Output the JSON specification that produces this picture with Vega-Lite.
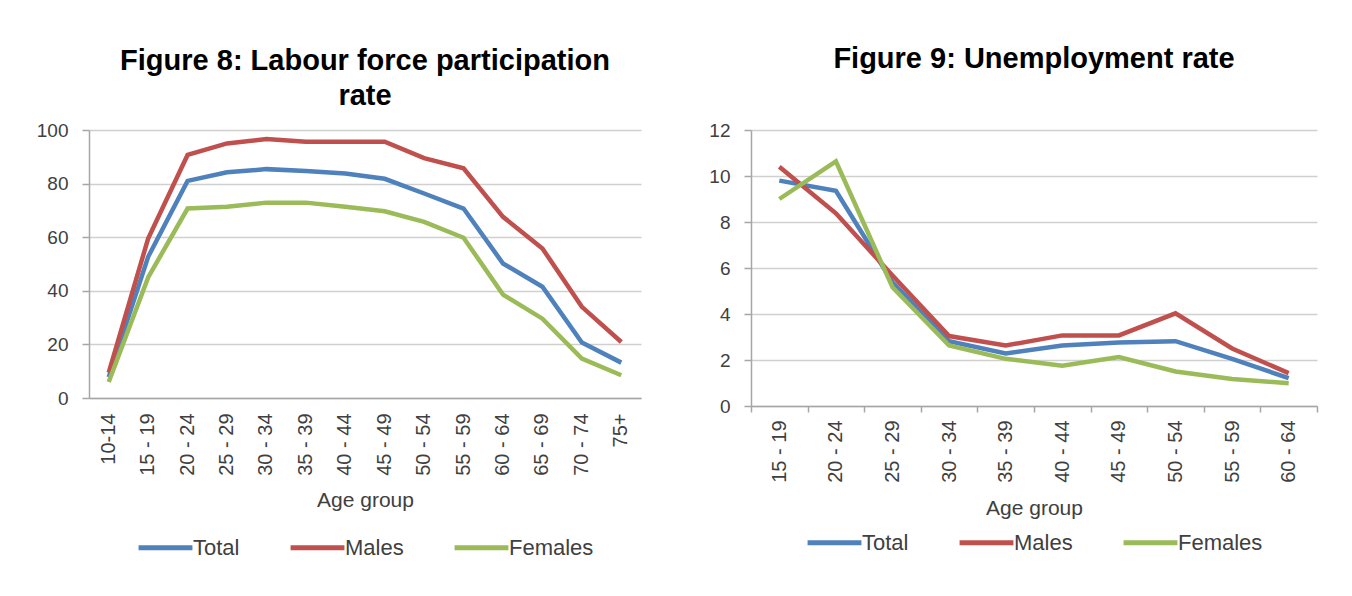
{
  "$schema": "https://vega.github.io/schema/vega-lite/v6.json",
  "background": "white",
  "padding": {"left": 36, "top": 45, "right": 20, "bottom": 5},
  "datasets": {
    "lfpr": [
      {"age": "10-14", "series": "Total", "value": 7.8},
      {"age": "15 - 19", "series": "Total", "value": 52.7},
      {"age": "20 - 24", "series": "Total", "value": 81},
      {"age": "25 - 29", "series": "Total", "value": 84.2},
      {"age": "30 - 34", "series": "Total", "value": 85.4},
      {"age": "35 - 39", "series": "Total", "value": 84.7},
      {"age": "40 - 44", "series": "Total", "value": 83.8},
      {"age": "45 - 49", "series": "Total", "value": 81.8},
      {"age": "50 - 54", "series": "Total", "value": 76.3},
      {"age": "55 - 59", "series": "Total", "value": 70.7},
      {"age": "60 - 64", "series": "Total", "value": 50.2},
      {"age": "65 - 69", "series": "Total", "value": 41.5},
      {"age": "70 - 74", "series": "Total", "value": 20.7},
      {"age": "75+", "series": "Total", "value": 13.2},
      {"age": "10-14", "series": "Males", "value": 9.5},
      {"age": "15 - 19", "series": "Males", "value": 59.5},
      {"age": "20 - 24", "series": "Males", "value": 90.7},
      {"age": "25 - 29", "series": "Males", "value": 95},
      {"age": "30 - 34", "series": "Males", "value": 96.6},
      {"age": "35 - 39", "series": "Males", "value": 95.6},
      {"age": "40 - 44", "series": "Males", "value": 95.6},
      {"age": "45 - 49", "series": "Males", "value": 95.6},
      {"age": "50 - 54", "series": "Males", "value": 89.5},
      {"age": "55 - 59", "series": "Males", "value": 85.7},
      {"age": "60 - 64", "series": "Males", "value": 67.6},
      {"age": "65 - 69", "series": "Males", "value": 55.8},
      {"age": "70 - 74", "series": "Males", "value": 34},
      {"age": "75+", "series": "Males", "value": 20.9},
      {"age": "10-14", "series": "Females", "value": 6},
      {"age": "15 - 19", "series": "Females", "value": 45},
      {"age": "20 - 24", "series": "Females", "value": 70.7},
      {"age": "25 - 29", "series": "Females", "value": 71.4},
      {"age": "30 - 34", "series": "Females", "value": 72.9},
      {"age": "35 - 39", "series": "Females", "value": 72.9},
      {"age": "40 - 44", "series": "Females", "value": 71.4},
      {"age": "45 - 49", "series": "Females", "value": 69.7},
      {"age": "50 - 54", "series": "Females", "value": 65.7},
      {"age": "55 - 59", "series": "Females", "value": 59.8},
      {"age": "60 - 64", "series": "Females", "value": 38.6},
      {"age": "65 - 69", "series": "Females", "value": 29.6},
      {"age": "70 - 74", "series": "Females", "value": 14.7},
      {"age": "75+", "series": "Females", "value": 8.5}
    ],
    "unemp": [
      {"age": "15 - 19", "series": "Total", "value": 9.8},
      {"age": "20 - 24", "series": "Total", "value": 9.36},
      {"age": "25 - 29", "series": "Total", "value": 5.38},
      {"age": "30 - 34", "series": "Total", "value": 2.82},
      {"age": "35 - 39", "series": "Total", "value": 2.28},
      {"age": "40 - 44", "series": "Total", "value": 2.63},
      {"age": "45 - 49", "series": "Total", "value": 2.76},
      {"age": "50 - 54", "series": "Total", "value": 2.82},
      {"age": "55 - 59", "series": "Total", "value": 2.05},
      {"age": "60 - 64", "series": "Total", "value": 1.21},
      {"age": "15 - 19", "series": "Males", "value": 10.4},
      {"age": "20 - 24", "series": "Males", "value": 8.38},
      {"age": "25 - 29", "series": "Males", "value": 5.67},
      {"age": "30 - 34", "series": "Males", "value": 3.04},
      {"age": "35 - 39", "series": "Males", "value": 2.63},
      {"age": "40 - 44", "series": "Males", "value": 3.07},
      {"age": "45 - 49", "series": "Males", "value": 3.07},
      {"age": "50 - 54", "series": "Males", "value": 4.03},
      {"age": "55 - 59", "series": "Males", "value": 2.5},
      {"age": "60 - 64", "series": "Males", "value": 1.43},
      {"age": "15 - 19", "series": "Females", "value": 9.0},
      {"age": "20 - 24", "series": "Females", "value": 10.64},
      {"age": "25 - 29", "series": "Females", "value": 5.16},
      {"age": "30 - 34", "series": "Females", "value": 2.63},
      {"age": "35 - 39", "series": "Females", "value": 2.05},
      {"age": "40 - 44", "series": "Females", "value": 1.75},
      {"age": "45 - 49", "series": "Females", "value": 2.13},
      {"age": "50 - 54", "series": "Females", "value": 1.5},
      {"age": "55 - 59", "series": "Females", "value": 1.17},
      {"age": "60 - 64", "series": "Females", "value": 0.99}
    ]
  },
  "hconcat": [
    {
      "width": 552,
      "height": 268,
      "data": {"name": "lfpr"},
      "title": {"text": ["Figure 8: Labour force participation", "rate"], "frame": "group", "offset": 10},
      "mark": {"type": "line", "strokeWidth": 4.5},
      "encoding": {
        "x": {
          "field": "age", "type": "nominal", "sort": null,
          "scale": {"type": "band", "paddingInner": 0, "paddingOuter": 0},
          "axis": {"title": "Age group", "labelAngle": -90, "ticks": false, "tickSize": 0, "labelPadding": 15, "titlePadding": 14, "grid": false}
        },
        "y": {
          "field": "value", "type": "quantitative",
          "scale": {"domain": [0, 100], "nice": false},
          "axis": {"title": null, "values": [0, 20, 40, 60, 80, 100]}
        },
        "color": {
          "field": "series", "type": "nominal",
          "scale": {"domain": ["Total", "Males", "Females"], "range": ["#4F81BD", "#C0504D", "#9BBB59"]},
          "legend": {"title": null, "orient": "bottom", "direction": "horizontal", "offset": 7}
        }
      }
    },
    {
      "width": 566,
      "height": 276,
      "data": {"name": "unemp"},
      "title": {"text": "Figure 9: Unemployment rate", "frame": "group", "offset": 47},
      "mark": {"type": "line", "strokeWidth": 4.5},
      "encoding": {
        "x": {
          "field": "age", "type": "nominal", "sort": null,
          "scale": {"type": "band", "paddingInner": 0, "paddingOuter": 0},
          "axis": {"title": "Age group", "labelAngle": -90, "ticks": true, "tickBand": "extent", "tickSize": 6, "labelPadding": 8, "titlePadding": 15, "grid": false}
        },
        "y": {
          "field": "value", "type": "quantitative",
          "scale": {"domain": [0, 12], "nice": false},
          "axis": {"title": null, "values": [0, 2, 4, 6, 8, 10, 12]}
        },
        "color": {
          "field": "series", "type": "nominal",
          "scale": {"domain": ["Total", "Males", "Females"], "range": ["#4F81BD", "#C0504D", "#9BBB59"]},
          "legend": {"title": null, "orient": "bottom", "direction": "horizontal", "offset": -6}
        }
      }
    }
  ],
  "spacing": 67,
  "resolve": {"legend": {"color": "independent"}},
  "config": {
    "font": "Liberation Sans",
    "view": {"stroke": null},
    "title": {"fontSize": 29, "fontWeight": "bold", "color": "#000000", "anchor": "middle", "lineHeight": 35, "font": "Liberation Sans"},
    "axis": {
      "labelFont": "Liberation Sans", "labelFontSize": 19, "labelColor": "#404040",
      "titleFont": "Liberation Sans", "titleFontSize": 21, "titleFontWeight": "normal", "titleColor": "#404040",
      "domainColor": "#a6a6a6", "domainWidth": 1.5, "tickColor": "#a6a6a6", "tickWidth": 1.5,
      "gridColor": "#d0d0d0", "gridWidth": 1.5
    },
    "axisX": {"labelFontSize": 20, "labelAlign": "right", "labelBaseline": "middle"},
    "axisY": {"tickSize": 7, "labelPadding": 14, "grid": true, "domain": true},
    "legend": {
      "symbolType": "stroke", "symbolStrokeWidth": 5, "symbolSize": 2900,
      "labelFont": "Liberation Sans", "labelFontSize": 22, "labelColor": "#404040",
      "labelOffset": -2, "columnPadding": 40,
      "layout": {"bottom": {"anchor": "middle"}}
    }
  }
}
